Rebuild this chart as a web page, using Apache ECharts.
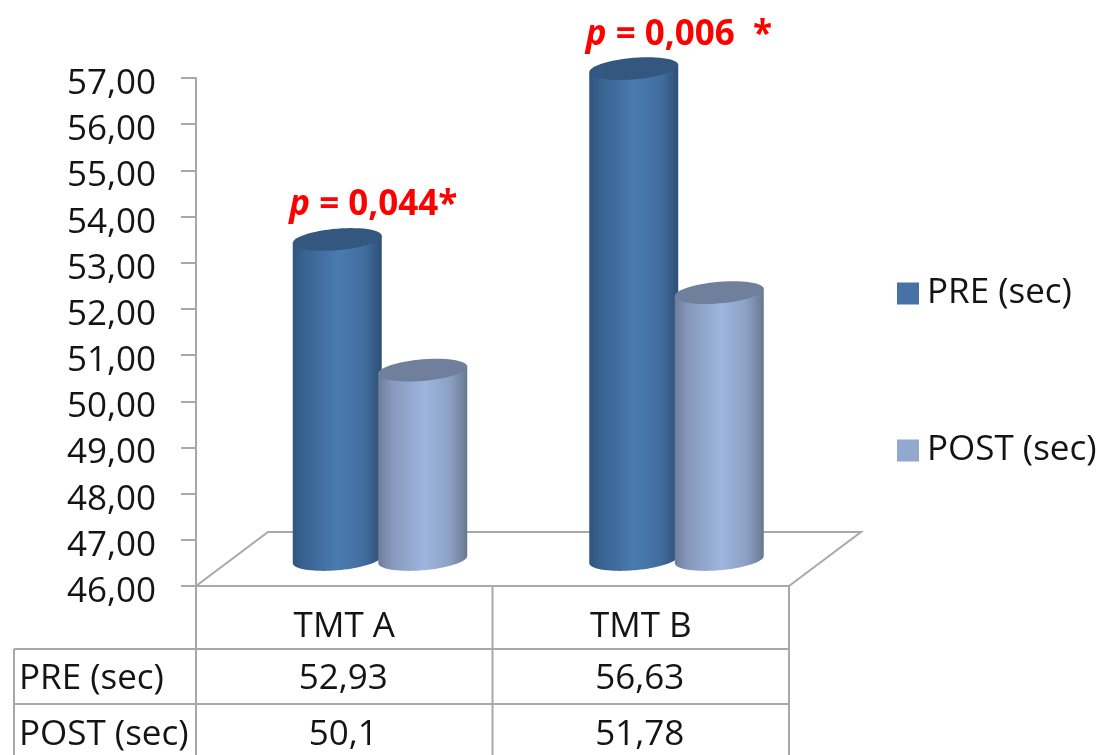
<!DOCTYPE html>
<html><head><meta charset="utf-8">
<style>html,body{margin:0;padding:0;background:#fff}#c{width:1102px;height:755px}</style>
<script src="https://cdn.jsdelivr.net/npm/echarts@6/dist/echarts.min.js"></script>
</head><body><div id="c"></div>
<script>
const categories = ['TMT A', 'TMT B'];
const preValues = [52.93, 56.63];
const postValues = [50.1, 51.78];
const preLabels = ['52,93', '56,63'];
const postLabels = ['50,1', '51,78'];
const pValues = ['0,044*', '0,006  *'];
const seriesNames = ['PRE (sec)', 'POST (sec)'];

const FONT = '"Open Sans"';
const GREY = '#a8a8a8';
const TEXT = '#141414';
const L = 196, R = 789, T = 78, B = 586;
const RX = 44.5, RY = 10.8, TILT = 3.6, BASE_LIFT = 26.5;

function ellipsePt(cx, cy, t) {
  return [cx + RX * Math.cos(t), cy + RY * Math.sin(t) - TILT * Math.cos(t)];
}
function cylinder(api, shift, palette, extras) {
  const p = api.coord([api.value(0), api.value(1)]);
  const base = api.coord([api.value(0), 46]);
  const cx = p[0] + shift, topY = p[1] - BASE_LIFT, botY = base[1] - BASE_LIFT;
  const body = [], top = [];
  for (let i = 0; i <= 40; i++) body.push(ellipsePt(cx, botY, Math.PI - Math.PI * i / 40));
  for (let i = 0; i <= 60; i++) top.push(ellipsePt(cx, topY, 2 * Math.PI * i / 60));
  body.push(ellipsePt(cx, topY, 0), ellipsePt(cx, topY, Math.PI));
  const grad = {
    type: 'linear', x: 0, y: 0, x2: 1, y2: 0,
    colorStops: palette.stops.map(s => ({ offset: s[0], color: s[1] }))
  };
  return {
    type: 'group',
    children: [
      { type: 'polygon', shape: { points: body }, style: { fill: grad } },
      { type: 'polygon', shape: { points: top }, style: { fill: palette.top } }
    ].concat(extras(cx, topY, p[0]))
  };
}
const prePalette = {
  top: '#34577f',
  stops: [[0, '#2f5580'], [0.12, '#38628f'], [0.5, '#4a7ab0'], [0.8, '#416e9f'], [0.95, '#335780'], [1, '#2f4f75']]
};
const postPalette = {
  top: '#707f9c',
  stops: [[0, '#6d7c98'], [0.14, '#8597ba'], [0.52, '#9fb5de'], [0.8, '#8da1c6'], [0.95, '#73839f'], [1, '#677690']]
};
function tableText(x, y, text) {
  return { type: 'text', style: { x: x, y: y, text: text, fill: TEXT, font: '35px ' + FONT, align: 'center', verticalAlign: 'middle' } };
}
const hLine = (y, x1, x2) => ({ type: 'line', z: 1, shape: { x1: x1, y1: y, x2: x2, y2: y }, style: { stroke: GREY, lineWidth: 2 } });
const vLine = (x, y1, y2) => ({ type: 'line', z: 1, shape: { x1: x, y1: y1, x2: x, y2: y2 }, style: { stroke: GREY, lineWidth: 2 } });

const chart = echarts.init(document.getElementById('c'), null, { renderer: 'canvas' });
chart.setOption({
  animation: false,
  backgroundColor: '#fff',
  grid: { left: L, right: 1102 - R, top: T, bottom: 755 - B },
  legend: {
    orient: 'vertical', left: 897, top: 276, padding: 0, itemGap: 122, itemWidth: 22, itemHeight: 22,
    icon: 'rect', selectedMode: false,
    textStyle: { fontFamily: FONT, fontSize: 35, color: TEXT, padding: [0, 0, 0, 3] },
    data: seriesNames
  },
  xAxis: {
    type: 'category', data: categories,
    axisLine: { lineStyle: { color: GREY, width: 2 } },
    axisTick: { show: false },
    axisLabel: { fontFamily: FONT, fontSize: 35, color: TEXT, margin: 24 }
  },
  yAxis: {
    type: 'value', min: 46, max: 57, interval: 1,
    splitLine: { show: false },
    axisLine: { show: true, lineStyle: { color: GREY, width: 2 } },
    axisTick: { show: true, length: 15, lineStyle: { color: GREY, width: 2 } },
    axisLabel: {
      fontFamily: FONT, fontSize: 35, color: TEXT, margin: 40,
      formatter: v => v.toFixed(2).replace('.', ','),
      verticalAlign: 'top', lineHeight: 12
    }
  },
  graphic: [
    { type: 'polyline', z: 1, shape: { points: [[L, B], [268, 532], [861, 532], [R, B]] }, style: { stroke: GREY, lineWidth: 2, fill: null } },
    hLine(649, 14, R), hLine(704, 14, R),
    vLine(14, 649, 755), vLine(L, B, 755), vLine((L + R) / 2, B, 755), vLine(R, B, 755),
    { type: 'text', z: 5, style: { x: 19, y: 679, text: seriesNames[0], fill: TEXT, font: '35px ' + FONT, verticalAlign: 'middle' } },
    { type: 'text', z: 5, style: { x: 19, y: 735, text: seriesNames[1], fill: TEXT, font: '35px ' + FONT, verticalAlign: 'middle' } }
  ],
  series: [
    {
      name: seriesNames[0], type: 'custom', clip: false, z: 3,
      itemStyle: { color: '#4672a5' },
      encode: { x: 0, y: 1 },
      data: preValues.map((v, i) => [i, v]),
      renderItem: (params, api) => cylinder(api, -7, prePalette, (cx, topY, mid) => [
        tableText(mid - 1, 679, preLabels[params.dataIndex]),
        {
          type: 'text',
          style: {
            x: cx - 48, y: topY - 34, verticalAlign: 'middle',
            text: '{i|p}{b| = ' + pValues[params.dataIndex] + '}',
            rich: {
              i: { font: 'italic bold 35px ' + FONT, fill: '#ff0000' },
              b: { font: 'bold 35px ' + FONT, fill: '#ff0000' }
            }
          }
        }
      ])
    },
    {
      name: seriesNames[1], type: 'custom', clip: false, z: 4,
      itemStyle: { color: '#93a8cf' },
      encode: { x: 0, y: 1 },
      data: postValues.map((v, i) => [i, v]),
      renderItem: (params, api) => cylinder(api, 78.5, postPalette, (cx, topY, mid) => [
        tableText(mid - 1, 735, postLabels[params.dataIndex])
      ])
    }
  ]
});
</script></body></html>
